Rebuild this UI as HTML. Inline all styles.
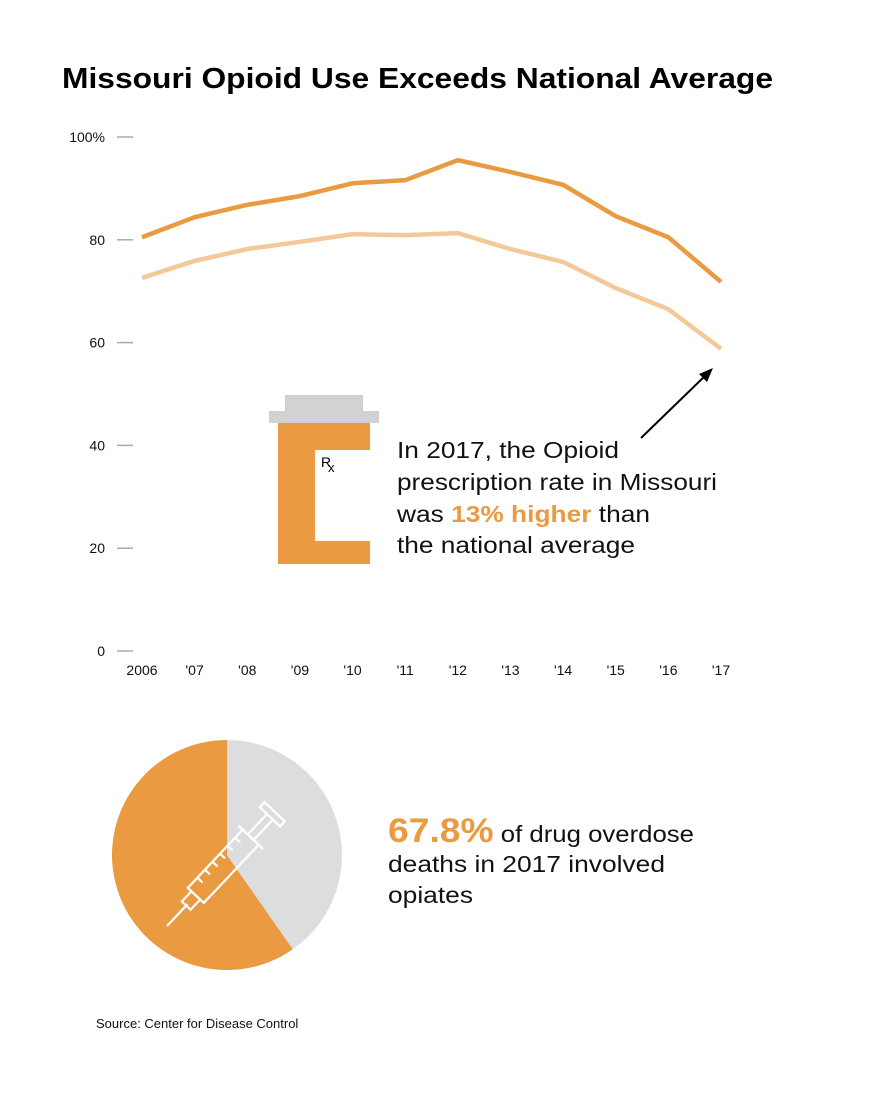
<!DOCTYPE html>
<html><head><meta charset="utf-8"><style>
body{margin:0;background:#fff;width:870px;height:1110px;overflow:hidden}
svg text{font-family:"Liberation Sans",Arial,sans-serif}
</style></head><body>
<svg width="870" height="1110" xmlns="http://www.w3.org/2000/svg">
<text x="62" y="88" font-size="29" font-weight="bold" fill="#000" textLength="711" lengthAdjust="spacingAndGlyphs">Missouri Opioid Use Exceeds National Average</text>
<g id="axes"></g>
<g id="xaxis"></g>
<g id="lines"></g>
<g>
<rect x="285" y="395" width="78" height="17" fill="#D1D2D4"/>
<rect x="269" y="411" width="110" height="12" fill="#D1D2D4"/>
<rect x="278" y="423" width="92" height="141" fill="#EA9A40"/>
<rect x="315" y="450" width="55" height="91" fill="#fff"/>
<text x="321" y="467" font-size="14" fill="#000">R</text><text x="328" y="472" font-size="13" fill="#000">x</text>
</g>
<g font-size="23.5" fill="#111">
<text x="397" y="458" textLength="222" lengthAdjust="spacingAndGlyphs">In 2017, the Opioid</text>
<text x="397" y="490" textLength="320" lengthAdjust="spacingAndGlyphs">prescription rate in Missouri</text>
<text x="397" y="522" textLength="253" lengthAdjust="spacingAndGlyphs">was <tspan fill="#EA9A40" font-weight="bold">13% higher</tspan> than</text>
<text x="397" y="553" textLength="238" lengthAdjust="spacingAndGlyphs">the national average</text>
</g>
<g>
<line x1="641" y1="438" x2="706" y2="375" stroke="#000" stroke-width="2"/>
<polygon points="713,368 699,374 707,382" fill="#000"/>
</g>
<g id="pie"></g>
<g transform="translate(167,926) rotate(-46.7)" stroke="#fff" stroke-width="2.2" fill="none">
<line x1="0" y1="0" x2="30" y2="0"/>
<rect x="28" y="-6" width="14" height="12"/>
<rect x="42" y="-11" width="80" height="22"/>
<line x1="56" y1="-11" x2="56" y2="-4"/><line x1="67" y1="-11" x2="67" y2="-4"/><line x1="78" y1="-11" x2="78" y2="-4"/><line x1="89" y1="-11" x2="89" y2="-4"/><line x1="100" y1="-11" x2="100" y2="-4"/><line x1="111" y1="-11" x2="111" y2="-4"/>
<line x1="122" y1="-17" x2="122" y2="17"/>
<line x1="122" y1="-4" x2="150" y2="-4"/><line x1="122" y1="4" x2="150" y2="4"/>
<rect x="150" y="-14" width="7" height="28"/>
</g>
<text x="388" y="842" font-size="23.5" fill="#111" textLength="306" lengthAdjust="spacingAndGlyphs"><tspan fill="#EA9A40" font-weight="bold" font-size="34">67.8%</tspan> of drug overdose</text>
<text x="388" y="872" font-size="23.5" fill="#111" textLength="277" lengthAdjust="spacingAndGlyphs">deaths in 2017 involved</text>
<text x="388" y="903" font-size="23.5" fill="#111" textLength="85" lengthAdjust="spacingAndGlyphs">opiates</text>
<text x="96" y="1028" font-size="13" fill="#111">Source: Center for Disease Control</text>
</svg>
<script>
const years=["2006","'07","'08","'09","'10","'11","'12","'13","'14","'15","'16","'17"];
const missouri=[80.5,84.4,86.8,88.5,91,91.6,95.5,93.2,90.7,84.6,80.5,71.8];
const national=[72.6,75.9,78.2,79.6,81.1,80.9,81.3,78.2,75.7,70.6,66.5,58.8];
const yTicks=[0,20,40,60,80,100];
const pieValues=[59.7,40.3];
const NS="http://www.w3.org/2000/svg";
const x=i=>142+i*(721-142)/(years.length-1);
const y=v=>651-v*5.14;
function mk(t,a,p){const e=document.createElementNS(NS,t);for(const k in a)e.setAttribute(k,a[k]);p.appendChild(e);return e;}
const ax=document.getElementById('axes');
yTicks.forEach(v=>{
 const l=mk('line',{x1:117,x2:133,y1:y(v),y2:y(v),stroke:'#aaa','stroke-width':1.5},ax);
 
 
 const t=mk('text',{x:105,y:y(v)+5,'font-size':14,'text-anchor':'end',fill:'#111'},ax);
 t.textContent=v===100?'100%':v;
 
 
});
const xa=document.getElementById('xaxis');
years.forEach((yr,i)=>{
 const t=mk('text',{x:x(i),y:675,'font-size':14,'text-anchor':'middle',fill:'#111'},xa);
 t.textContent=yr;
 
 
});
const lg=document.getElementById('lines');
[[national,'#F4C898','national-average-line'],[missouri,'#EA9A40','missouri-line']].forEach(([d,c,n])=>{
 const p=mk('polyline',{points:d.map((v,i)=>x(i)+','+y(v)).join(' '),fill:'none',stroke:c,'stroke-width':4.5,'stroke-linejoin':'round'},lg);
 
 
});
const pg=document.getElementById('pie');
const cx=227,cy=855,r=115,tot=pieValues.reduce((a,b)=>a+b,0);
const cols=['#EA9A40','#DCDDDE'];
let start=-pieValues[0]/tot*2*Math.PI;
pieValues.forEach((v,i)=>{
 const a0=start,a1=start+v/tot*2*Math.PI;start=a1;
 const p0=[cx+r*Math.sin(a0),cy-r*Math.cos(a0)],p1=[cx+r*Math.sin(a1),cy-r*Math.cos(a1)];
 const s=mk('path',{d:`M${cx},${cy}L${p0}A${r},${r} 0 ${a1-a0>Math.PI?1:0} 1 ${p1}Z`,fill:cols[i]},pg);
 
 
});
</script>
</body></html>
